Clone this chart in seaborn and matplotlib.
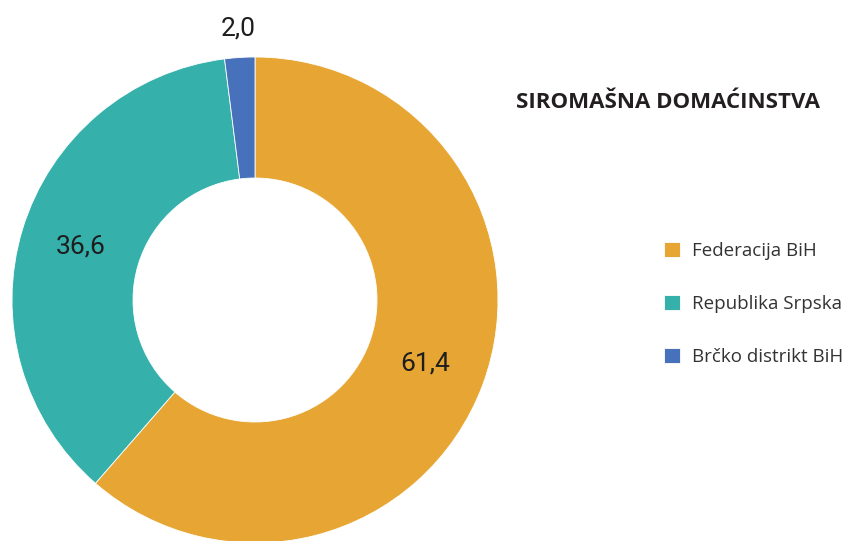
import numpy as np
import matplotlib
matplotlib.use('Agg')
import matplotlib.pyplot as plt
import seaborn as sns

# podaci
regije = ['Federacija BiH', 'Republika Srpska', 'Brčko distrikt BiH']
udio = [61.4, 36.6, 2.0]
oznake = ['61,4', '36,6', '2,0']
boje = ['#E7A633', '#35B0AA', '#4771BA']
naslov = 'SIROMAŠNA DOMAĆINSTVA'

sns.set_theme(style='white')
plt.rcParams['font.family'] = ['Open Sans', 'DejaVu Sans']

fig = plt.figure(figsize=(8.48, 5.41), dpi=100)
ax = fig.add_axes([0, 0, 1, 1])

wedges = ax.pie(udio, colors=boje, startangle=90, counterclock=False,
                center=(255, 241), radius=243,
                wedgeprops=dict(width=121, edgecolor='white', linewidth=0.6))[0]
ax.set_xlim(0, 848)
ax.set_ylim(0, 541)
ax.axis('off')

# vrijednosti
udaljenost = [0.75, 0.75, 1.12]
for w, t, d in zip(wedges, oznake, udaljenost):
    kut = np.deg2rad((w.theta1 + w.theta2) / 2)
    x = 255 + d * 243 * np.cos(kut)
    y = 241 + d * 243 * np.sin(kut)
    ax.text(x, y, t, ha='center', va='center', fontsize=19,
            family=['Roboto', 'DejaVu Sans'], fontweight='normal', color='#1E1E1E')

fig.text(820 / 848, 1 - 103 / 541, naslov, ha='right', va='center',
         fontsize=16, fontweight='bold', color='#231F20')

leg = fig.legend(wedges, regije, loc='upper left',
                 bbox_to_anchor=(655 / 848, 1 - 233 / 541),
                 frameon=False, fontsize=13.5, handlelength=0.85, handleheight=0.85,
                 handletextpad=0.6, labelspacing=1.85, borderpad=0)
for t in leg.get_texts():
    t.set_color('#333333')

fig.savefig('out.png', dpi=100)
